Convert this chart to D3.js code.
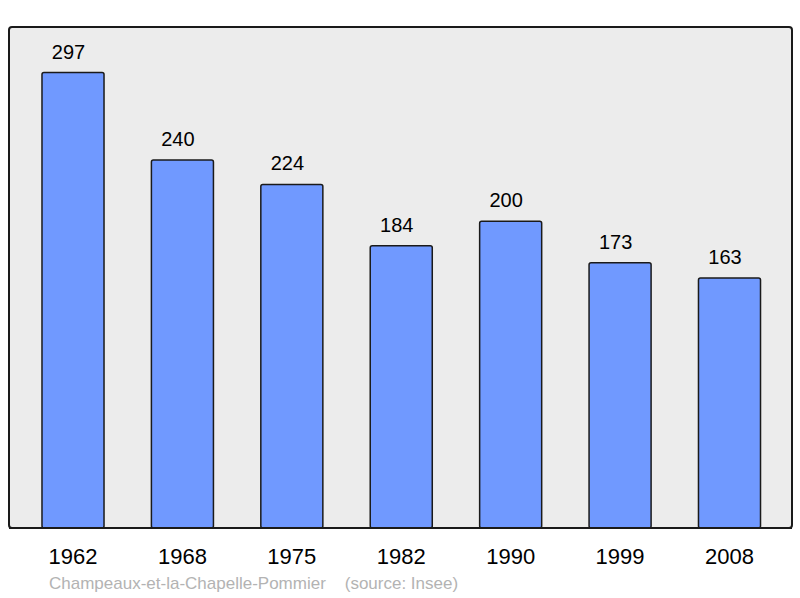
<!DOCTYPE html>
<html lang="en">
<head>
<meta charset="utf-8">
<style type="text/css">
    body { margin: 0; background: #fff; }
    text { font-family: "Liberation Sans", Arial, sans-serif; }
</style>
</head>
<body>
<svg width="800" height="598"></svg>
<script src="https://d3js.org/d3.v7.min.js"></script>
<script type="text/javascript">
    var years = ["1962", "1968", "1975", "1982", "1990", "1999", "2008"];
    var population = [297, 240, 224, 184, 200, 173, 163];
    var caption = "Champeaux-et-la-Chapelle-Pommier    (source: Insee)";

    var svg = d3.select("svg");
    var panel = {left: 9, top: 27, right: 792, bottom: 528};

    var x = d3.scaleBand()
        .domain(years)
        .range([18.3, 784.2])
        .paddingInner(0.433)
        .paddingOuter(0.2165);

    var y = d3.scaleLinear()
        .domain([0, d3.max(population) * 1.1])
        .range([panel.bottom, panel.top]);

    svg.append("rect")
        .attr("x", panel.left)
        .attr("y", panel.top)
        .attr("width", panel.right - panel.left)
        .attr("height", panel.bottom - panel.top)
        .attr("rx", 3)
        .attr("fill", "#ececec")
        .attr("stroke", "#1a1a1a")
        .attr("stroke-width", 2);

    var data = years.map(function (d, i) { return {year: d, value: population[i]}; });

    svg.selectAll(".bar")
        .data(data)
        .enter()
        .append("rect")
        .attr("class", "bar")
        .attr("x", function (d) { return x(d.year); })
        .attr("y", function (d) { return y(d.value); })
        .attr("width", x.bandwidth())
        .attr("height", function (d) { return y(0) - y(d.value); })
        .attr("rx", 2)
        .attr("fill", "#7099ff")
        .attr("stroke", "#1a1a1a")
        .attr("stroke-width", 1.5);

    // redraw the baseline over the bars
    svg.append("line")
        .attr("x1", panel.left)
        .attr("x2", panel.right)
        .attr("y1", panel.bottom)
        .attr("y2", panel.bottom)
        .attr("stroke", "#1a1a1a")
        .attr("stroke-width", 2);

    // value labels sit a little left of the bar centre in the original
    svg.selectAll(".value")
        .data(data)
        .enter()
        .append("text")
        .attr("class", "value")
        .attr("x", function (d) { return x(d.year) + x.bandwidth() / 2 - 4.5; })
        .attr("y", function (d) { return y(d.value) - 14; })
        .attr("text-anchor", "middle")
        .attr("font-size", 20)
        .attr("fill", "#000")
        .text(function (d) { return d.value; });

    var xAxis = d3.axisBottom(x).tickSize(0).tickPadding(0);
    var ax = svg.append("g")
        .attr("transform", "translate(0," + panel.bottom + ")")
        .call(xAxis);
    ax.select(".domain").remove();
    ax.selectAll("text")
        .attr("dy", null)
        .attr("y", 36)
        .attr("font-size", 22)
        .attr("font-family", "Liberation Sans, Arial, sans-serif")
        .attr("fill", "#000");

    svg.append("text")
        .attr("x", 49)
        .attr("y", 589)
        .attr("font-size", 17)
        .attr("fill", "#b3b3b3")
        .attr("xml:space", "preserve")
        .style("white-space", "pre")
        .text(caption);
</script>
</body>
</html>
